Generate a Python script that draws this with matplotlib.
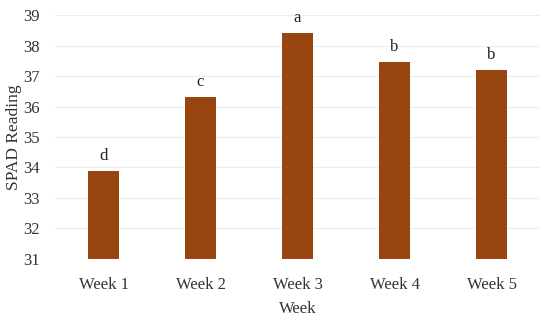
import numpy as np
import matplotlib.pyplot as plt

weeks = ['Week 1', 'Week 2', 'Week 3', 'Week 4', 'Week 5']
spad = [33.9, 36.3, 38.4, 37.45, 37.2]
letters = ['d', 'c', 'a', 'b', 'b']

plt.rcParams['font.family'] = ['Liberation Serif', 'DejaVu Serif']

fig = plt.figure(figsize=(5.5, 3.22), dpi=100)
ax = fig.add_axes([0.1, 0.196, 0.882, 0.757])

x = np.arange(len(weeks))
bars = ax.bar(x, np.array(spad) - 31, bottom=31, width=0.32, color='#98450F', zorder=3)

# significance letters above bars
for xi, v, lab in zip(x, spad, letters):
    ax.annotate(lab, (xi, v), xytext=(0, 5), textcoords='offset points',
                ha='center', va='bottom', fontsize=12, color='#222222')

ax.set_ylim(31, 39)
ax.set_xlim(-0.5, len(weeks) - 0.5)
ax.set_yticks(range(31, 40))
ax.set_xticks(x)
ax.set_xticklabels(weeks)
ax.tick_params(length=0, labelsize=12, colors='#333333')
ax.tick_params(axis='x', pad=13)
ax.tick_params(axis='y', pad=11)
ax.grid(axis='y', color='#EDEDED', linewidth=0.8, zorder=0)
for s in ax.spines.values():
    s.set_visible(False)

ax.set_xlabel('Week', fontsize=12, color='#333333', labelpad=6)
ax.set_ylabel('SPAD Reading', fontsize=12.5, color='#333333', labelpad=1)

fig.savefig('out.png', dpi=100)
